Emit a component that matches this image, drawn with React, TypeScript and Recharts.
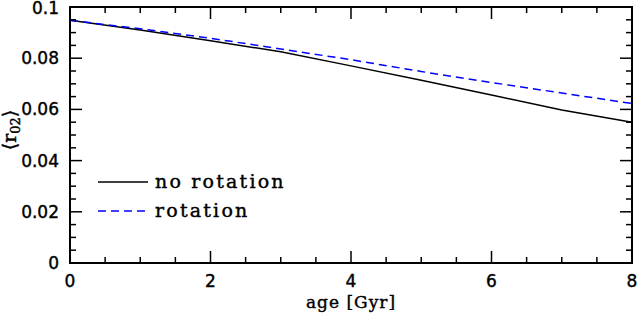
import React from 'react';
import { LineChart, Line, XAxis, YAxis, ReferenceArea, Legend } from 'recharts';

// age in Gyr
const ages = [0, 1, 2, 3, 4, 5, 6, 7, 8];
const noRotation = [0.0948, 0.0910, 0.0868, 0.0825, 0.0770, 0.0714, 0.0656, 0.0598, 0.0550];
const withRotation = [0.0948, 0.0915, 0.0878, 0.0836, 0.0794, 0.0748, 0.0705, 0.0664, 0.0623];

const xTicks = [0, 0.5, 1, 1.5, 2, 2.5, 3, 3.5, 4, 4.5, 5, 5.5, 6, 6.5, 7, 7.5, 8];
const xLabels = ['0', '2', '4', '6', '8'];
const yTicks = [
    0, 0.005, 0.01, 0.015, 0.02, 0.025, 0.03, 0.035, 0.04, 0.045, 0.05,
    0.055, 0.06, 0.065, 0.07, 0.075, 0.08, 0.085, 0.09, 0.095, 0.1,
];
const yLabels = ['0', '0.02', '0.04', '0.06', '0.08', '0.1'];

const data = ages.map((age, i) => ({ age, noRot: noRotation[i], rot: withRotation[i] }));

const W = 638;
const H = 316;
const PLOT = { left: 70, right: 632, top: 7, bottom: 263 };
const MAJOR = 12;
const MINOR = 6;
const numFont = '"DejaVu Sans", sans-serif';
const textFont = '"DejaVu Serif", serif';
const thicken = { stroke: '#000', strokeWidth: 0.4 };

const XTick = (props: any) => {
    const { x, payload } = props;
    const v = payload.value;
    const major = Math.round(v * 10) % 20 === 0;
    const len = major ? MAJOR : MINOR;
    const label = major ? xLabels[Math.round(v / 2)] : null;
    return (
        <g>
            <line x1={x} x2={x} y1={PLOT.bottom} y2={PLOT.bottom - len} stroke="#000" strokeWidth={1.5} />
            <line x1={x} x2={x} y1={PLOT.top} y2={PLOT.top + len} stroke="#000" strokeWidth={1.5} />
            {label && (
                <text x={x} y={287} textAnchor="middle" fontSize={17} fontFamily={numFont} fill="#000" {...thicken}>
                    {label}
                </text>
            )}
        </g>
    );
};

const YTick = (props: any) => {
    const { y, payload } = props;
    const v = payload.value;
    const k = Math.round(v * 1000);
    const major = k % 20 === 0;
    const len = major ? MAJOR : MINOR;
    const label = major ? yLabels[k / 20] : null;
    return (
        <g>
            <line x1={PLOT.left} x2={PLOT.left + len} y1={y} y2={y} stroke="#000" strokeWidth={1.5} />
            <line x1={PLOT.right} x2={PLOT.right - len} y1={y} y2={y} stroke="#000" strokeWidth={1.5} />
            {label && (
                <text x={59} y={Math.max(y + 6, 14)} textAnchor="end" fontSize={17} fontFamily={numFont} fill="#000" {...thicken}>
                    {label}
                </text>
            )}
        </g>
    );
};

const LegendBox = () => (
    <svg width={220} height={50}>
        <line x1={0} x2={50} y1={12} y2={12} stroke="#000" strokeWidth={1.5} />
        <text x={57} y={18} fontSize={19} letterSpacing={2.2} fontFamily={textFont} fill="#000" {...thicken}>no rotation</text>
        <line x1={0} x2={50} y1={41} y2={41} stroke="#0000ff" strokeWidth={1.5} strokeDasharray="8 5" />
        <text x={57} y={47} fontSize={19} letterSpacing={2.2} fontFamily={textFont} fill="#000" {...thicken}>rotation</text>
    </svg>
);

const App: React.FC = () => {
    return (
        <div style={{ position: 'absolute', left: 0, top: 0, width: W, height: H, background: '#fff' }}>
            <LineChart width={W} height={H} data={data} margin={{ top: PLOT.top, right: W - PLOT.right, left: 0, bottom: 0 }}>
                <XAxis
                    dataKey="age"
                    type="number"
                    domain={[0, 8]}
                    ticks={xTicks}
                    interval={0}
                    height={H - PLOT.bottom}
                    tickLine={false}
                    axisLine={false}
                    tick={<XTick />}
                    label={{ value: 'age [Gyr]', position: 'insideBottom', offset: 8, fontSize: 17, letterSpacing: 1, fontFamily: textFont, fill: '#000', ...thicken }}
                />
                <YAxis
                    type="number"
                    domain={[0, 0.1]}
                    ticks={yTicks}
                    interval={0}
                    width={PLOT.left}
                    tickLine={false}
                    axisLine={false}
                    tick={<YTick />}
                    label={{
                        content: () => (
                            <text
                                transform={`translate(16, 130) rotate(-90)`}
                                textAnchor="middle"
                                fontSize={19}
                                fontFamily={textFont}
                                fill="#000"
                                {...thicken}
                            >
                                ⟨r<tspan fontSize={13} dy={4}>02</tspan><tspan dy={-4}>⟩</tspan>
                            </text>
                        ),
                    }}
                />
                <ReferenceArea x1={0} x2={8} y1={0} y2={0.1} fill="none" stroke="#000" strokeWidth={2} />
                <Line dataKey="noRot" stroke="#000" strokeWidth={1.5} dot={false} isAnimationActive={false} />
                <Line dataKey="rot" stroke="#0000ff" strokeWidth={1.5} strokeDasharray="8 5" dot={false} isAnimationActive={false} />
                <Legend
                    layout="vertical"
                    align="center"
                    verticalAlign="middle"
                    content={<LegendBox />}
                    wrapperStyle={{ position: 'absolute', left: 98, top: 170, width: 220, height: 50 }}
                />
            </LineChart>
        </div>
    );
};

export default App;
